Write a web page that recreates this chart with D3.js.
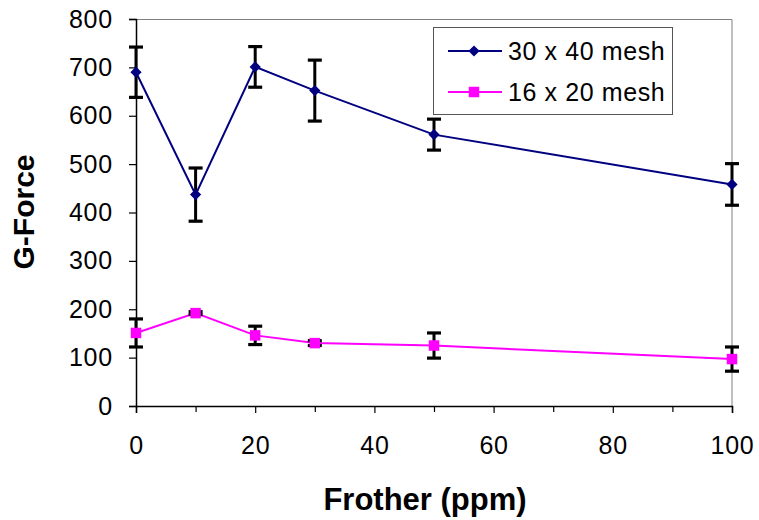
<!DOCTYPE html>
<html>
<head>
<meta charset="utf-8">
<script src="https://cdnjs.cloudflare.com/ajax/libs/d3/7.8.5/d3.min.js"></script>
<style>
  body { margin: 0; background: #fff; }
  text { font-family: Arial, "Liberation Sans", sans-serif; }
</style>
</head>
<body>
<div id="chart"></div>
<script>
// data
var frother = [0, 10, 20, 30, 50, 100];
var mesh3040 = [690, 437, 701, 652, 561, 458];
var err3040 = [52, 55, 42, 63, 32, 43];
var mesh1620 = [151, 192, 146, 130, 125, 97];
var err1620 = [29, 3, 19, 5, 26, 25];
var xTicks = [0, 20, 40, 60, 80, 100];
var xMinor = [10, 30, 50, 70, 90];
var yTicks = [0, 100, 200, 300, 400, 500, 600, 700, 800];

var W = 759, H = 520;
var margin = {top: 19, right: 27, bottom: 114, left: 136},
    width = 732 - margin.left,
    height = 406 - margin.top;

var svg = d3.select("#chart")
  .append("svg")
    .attr("width", W)
    .attr("height", H)
  .append("g")
    .attr("transform", "translate(" + margin.left + "," + margin.top + ")");

var x = d3.scaleLinear().domain([0, 100]).range([0, width]);
var y = d3.scaleLinear().domain([0, 800]).range([height, 0]);

// gray frame top/right
svg.append("path")
  .attr("d", "M0,0.5H" + width + "V" + height)
  .attr("fill", "none")
  .attr("stroke", "#808080")
  .attr("stroke-width", 1);

// y axis
var yAxis = svg.append("g")
  .call(d3.axisLeft(y).tickValues(yTicks).tickSizeOuter(0).tickSize(7).tickPadding(16));
yAxis.select(".domain").attr("stroke", "#000").attr("stroke-width", 1.5);
yAxis.selectAll("line").attr("stroke", "#000").attr("stroke-width", 1.2);
yAxis.selectAll("text").style("font-size", "25px").style("letter-spacing", "0.8px").attr("fill", "#000");

// x axis, minor ticks first
svg.append("g")
  .attr("transform", "translate(0," + height + ")")
  .call(d3.axisBottom(x).tickValues(xMinor).tickSize(6).tickFormat(""))
  .call(function(g) { g.select(".domain").remove(); })
  .selectAll("line").attr("stroke", "#000").attr("stroke-width", 1.2);

var xAxis = svg.append("g")
  .attr("transform", "translate(0," + height + ")")
  .call(d3.axisBottom(x).tickValues(xTicks).tickSizeOuter(0).tickSize(7).tickPadding(23));
xAxis.select(".domain").attr("stroke", "#000").attr("stroke-width", 1.5);
xAxis.selectAll("line").attr("stroke", "#000").attr("stroke-width", 1.2);
xAxis.selectAll("text").style("font-size", "25px").style("letter-spacing", "0.8px").attr("fill", "#000");

// axis titles
svg.append("text")
  .text("Frother (ppm)")
  .attr("x", 425 - margin.left)
  .attr("y", 510 - margin.top)
  .attr("text-anchor", "middle")
  .style("font-size", "31px")
  .style("font-weight", "bold");

svg.append("text")
  .text("G-Force")
  .attr("transform", "translate(" + (34 - margin.left) + "," + (212 - margin.top) + ") rotate(-90)")
  .attr("text-anchor", "middle")
  .style("font-size", "30px")
  .style("font-weight", "bold");

var series = [
  {name: "30 x 40 mesh", values: mesh3040, err: err3040, color: "#000080", shape: d3.symbolDiamond2, size: 80},
  {name: "16 x 20 mesh", values: mesh1620, err: err1620, color: "#FF00FF", shape: d3.symbolSquare2, size: 140}
];

var line = d3.line()
  .x(function(d) { return x(d[0]); })
  .y(function(d) { return y(d[1]); });

series.forEach(function(s) {
  var pts = frother.map(function(f, i) { return [f, s.values[i], s.err[i]]; });

  svg.append("path")
    .datum(pts)
    .attr("d", line)
    .attr("fill", "none")
    .attr("stroke", s.color)
    .attr("stroke-width", 2);

  // error bars
  var eb = svg.append("g").selectAll("g")
    .data(pts).enter().append("g");
  eb.append("line")
    .attr("x1", function(d) { return x(d[0]); })
    .attr("x2", function(d) { return x(d[0]); })
    .attr("y1", function(d) { return y(d[1] - d[2]); })
    .attr("y2", function(d) { return y(d[1] + d[2]); })
    .attr("stroke", "#000").attr("stroke-width", 3);
  [-1, 1].forEach(function(sign) {
    eb.append("line")
      .attr("x1", function(d) { return x(d[0]) - 7; })
      .attr("x2", function(d) { return x(d[0]) + 7; })
      .attr("y1", function(d) { return y(d[1] + sign * d[2]); })
      .attr("y2", function(d) { return y(d[1] + sign * d[2]); })
      .attr("stroke", "#000").attr("stroke-width", 3.2);
  });

  svg.append("g").selectAll("path")
    .data(pts).enter().append("path")
    .attr("d", d3.symbol().type(s.shape).size(s.size))
    .attr("transform", function(d) { return "translate(" + x(d[0]) + "," + y(d[1]) + ")"; })
    .attr("fill", s.color)
    .attr("stroke", "none");
});

// legend
var lg = svg.append("g").attr("transform", "translate(" + (433 - margin.left) + "," + (27 - margin.top) + ")");
lg.append("rect")
  .attr("x", 0.5).attr("y", 0.5)
  .attr("width", 239).attr("height", 87)
  .attr("fill", "#fff")
  .attr("stroke", "#555").attr("stroke-width", 1);

series.forEach(function(s, i) {
  var ry = 24 + i * 41;
  lg.append("line")
    .attr("x1", 15).attr("x2", 69)
    .attr("y1", ry).attr("y2", ry)
    .attr("stroke", s.color).attr("stroke-width", 2);
  lg.append("path")
    .attr("d", d3.symbol().type(s.shape).size(s.size))
    .attr("transform", "translate(41," + ry + ")")
    .attr("fill", s.color);
  lg.append("text")
    .text(s.name)
    .attr("x", 75)
    .attr("y", ry + 9)
    .style("font-size", "25px")
    .style("letter-spacing", "0.6px");
});
</script>
</body>
</html>
